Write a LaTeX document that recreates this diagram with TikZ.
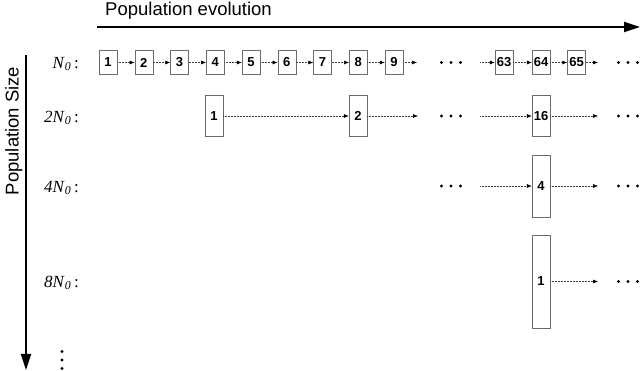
\documentclass[tikz,border=0pt]{standalone}
\usepackage{fontspec}
\setmainfont{Liberation Serif}
\setsansfont{Liberation Sans}
\usetikzlibrary{arrows.meta}

\tikzset{
	gen/.style={draw=gray!85!black, fill=white, inner sep=0pt, minimum width=18pt,
		font=\sffamily\bfseries\fontsize{13}{13}\selectfont},
	flow/.style={densely dotted, line width=0.5pt, draw=black!75,
		-{Latex[length=5pt,width=4pt,color=black]}},
	axis/.style={line width=1.9pt, -{Triangle[length=16pt,width=10pt]}},
	rowlabel/.style={anchor=east, inner sep=0pt, font=\fontsize{17}{17}\selectfont},
}
\newcommand{\popN}[1]{\textit{#1N}\textsubscript{\textit{0}}\,:}

\begin{document}
\begin{tikzpicture}[x=1pt,y=-1pt]
%
	\useasboundingbox (0,0) rectangle (640,371);
%
	% axes
	\coordinate (evoS) at (97,27);
	\coordinate (evoE) at (640,27);
	\coordinate (sizeS) at (26,55);
	\coordinate (sizeE) at (26,370);
	\draw[axis] (evoS) -- (evoE);
	\draw[axis] (sizeS) -- (sizeE);
	\node[anchor=base west, inner sep=0pt, font=\sffamily\fontsize{18.5}{18.5}\selectfont] (evotitle) at (105,15.5) {Population evolution};
	\node[anchor=base, rotate=90, inner sep=0pt, font=\sffamily\fontsize{18.5}{18.5}\selectfont] (sizetitle) at (18.5,131) {Population Size};
%
	% row labels
	\node[rowlabel] (lA) at (79,64) {\popN{}};
	\node[rowlabel] (lB) at (79,118) {\popN{2}};
	\node[rowlabel] (lC) at (79,188) {\popN{4}};
	\node[rowlabel] (lD) at (79,283) {\popN{8}};
%
	% N0
	\foreach \n in {1,...,9}
		\node[gen, minimum height=24pt] (a\n) at ({108+35.75*(\n-1)},62.5) {\n};
	\foreach \n [count=\m from 2] in {1,...,8}
		\draw[flow] (a\n) -- (a\m);
	\node[gen, minimum height=24pt] (a63) at (504,62.5) {63};
	\node[gen, minimum height=24pt] (a64) at (541,62.5) {64};
	\node[gen, minimum height=24pt] (a65) at (576.5,62.5) {65};
	\coordinate (aE) at (417,62.5);
	\coordinate (aS) at (480,62.5);
	\coordinate (aF) at (598,62.5);
	\draw[flow] (a9) -- (aE);
	\draw[flow] (aS) -- (a63);
	\draw[flow] (a63) -- (a64);
	\draw[flow] (a64) -- (a65);
	\draw[flow] (a65) -- (aF);
	\coordinate (mA1) at (451,62.5);
	\coordinate (mA2) at (628,62.5);
%
	% 2N0
	\node[gen, minimum height=41pt] (b1) at (214,116) {1};
	\node[gen, minimum height=41pt] (b2) at (358,116) {2};
	\node[gen, minimum height=41pt] (b16) at (541,116) {16};
	\coordinate (bE) at (418,116);
	\coordinate (bS) at (480,116);
	\coordinate (bF) at (598,116);
	\draw[flow] (b1) -- (b2);
	\draw[flow] (b2) -- (bE);
	\draw[flow] (bS) -- (b16);
	\draw[flow] (b16) -- (bF);
	\coordinate (mB1) at (451,116);
	\coordinate (mB2) at (628,116);
%
	% 4N0
	\node[gen, minimum height=62pt] (c4) at (541,186) {4};
	\coordinate (cS) at (480,186);
	\coordinate (cF) at (598,186);
	\draw[flow] (cS) -- (c4);
	\draw[flow] (c4) -- (cF);
	\coordinate (mC1) at (451,186);
	\coordinate (mC2) at (628,186);
%
	% 8N0
	\node[gen, minimum height=93pt] (d1) at (541,281.5) {1};
	\coordinate (dF) at (598,281.5);
	\draw[flow] (d1) -- (dF);
	\coordinate (mD2) at (628,281.5);
%
	% dots
	\foreach \m in {mA1,mA2,mB1,mB2,mC1,mC2,mD2}
		\foreach \k in {-1,0,1}
			\fill ([xshift=\k*9.5pt]\m) circle (1.6pt);
	\coordinate (mV) at (62,360);
	\foreach \k in {-1,0,1}
		\fill ([yshift=\k*8.5pt]mV) circle (1.6pt);
%
\end{tikzpicture}
\end{document}
